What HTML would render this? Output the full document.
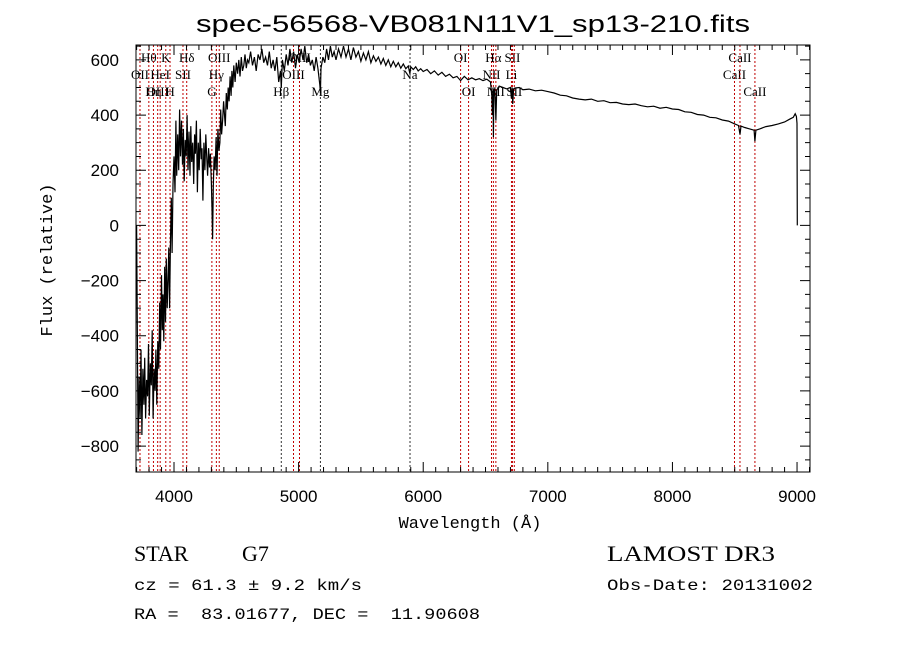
<!DOCTYPE html>
<html><head><meta charset="utf-8"><style>
html,body{margin:0;padding:0;background:#fff;}
svg{display:block;}
text{white-space:pre;}
</style></head><body>
<svg id="chart" width="900" height="649" viewBox="0 0 900 649" xmlns="http://www.w3.org/2000/svg">
<rect width="900" height="649" fill="#fff"/>
<text x="473" y="32" font-family="Liberation Sans, sans-serif" font-size="24" text-anchor="middle" textLength="554" lengthAdjust="spacingAndGlyphs">spec-56568-VB081N11V1_sp13-210.fits</text>
<g id="lines"></g>
<g id="series"></g>
<g id="axes"></g>
<text x="470" y="528" font-family="Liberation Mono, monospace" font-size="17" text-anchor="middle">Wavelength (Å)</text>
<text transform="translate(52,260) rotate(-90)" font-family="Liberation Mono, monospace" font-size="17" text-anchor="middle">Flux (relative)</text>
<text x="134" y="561" font-family="Liberation Serif, serif" font-size="22">STAR</text>
<text x="242" y="561" font-family="Liberation Serif, serif" font-size="22">G7</text>
<text x="134" y="590" font-family="Liberation Mono, monospace" font-size="16" textLength="228" lengthAdjust="spacingAndGlyphs">cz = 61.3 ± 9.2 km/s</text>
<text x="134" y="619" font-family="Liberation Mono, monospace" font-size="16" textLength="346" lengthAdjust="spacingAndGlyphs">RA =  83.01677, DEC =  11.90608</text>
<text x="607" y="561" font-family="Liberation Serif, serif" font-size="22" textLength="168" lengthAdjust="spacingAndGlyphs">LAMOST DR3</text>
<text x="607" y="590" font-family="Liberation Mono, monospace" font-size="16" textLength="206" lengthAdjust="spacingAndGlyphs">Obs-Date: 20131002</text>
</svg>
<script>
const spectrum = [
[3700,0],[3705,-300],[3712,-820],[3720,-550],[3728,-700],[3735,-450],[3742,-760],[3750,-520],[3758,-650],[3765,-480],
[3772,-700],[3780,-560],[3788,-620],[3795,-430],[3802,-690],[3810,-500],[3818,-580],[3825,-380],[3832,-700],[3840,-520],
[3848,-600],[3855,-450],[3862,-650],[3870,-420],[3878,-520],[3885,-280],[3892,-450],[3900,-180],[3906,-380],[3912,-250],
[3918,-420],[3925,-150],[3932,-350],[3938,-120],[3945,-300],[3952,-200],[3958,-80],[3965,-300],[3972,-50],[3978,100],
[3985,-100],[3992,150],[4000,250],[4008,120],[4015,380],[4022,180],[4030,330],[4038,200],[4045,420],[4052,250],
[4060,380],[4068,220],[4075,350],[4082,160],[4090,310],[4098,250],[4105,400],[4112,200],[4120,340],[4128,180],
[4135,360],[4142,230],[4150,300],[4158,150],[4165,330],[4172,260],[4180,380],[4188,120],[4195,300],[4202,200],
[4210,350],[4218,240],[4225,280],[4232,90],[4240,300],[4248,200],[4255,330],[4262,250],[4270,180],[4278,280],
[4285,210],[4292,260],[4300,150],[4305,60],[4310,-50],[4315,140],[4322,250],[4330,200],[4338,320],[4345,180],
[4352,350],[4360,270],[4368,300],[4375,420],[4382,330],[4390,380],[4398,450],[4405,400],[4412,360],[4420,480],
[4428,420],[4435,500],[4442,450],[4450,540],[4458,470],[4465,560],[4472,500],[4480,580],[4490,520],[4500,590],
[4510,550],[4520,600],[4530,540],[4540,610],[4550,560],[4560,580],[4570,620],[4580,570],[4590,600],[4600,590],
[4615,630],[4630,580],[4645,610],[4660,560],[4675,620],[4690,600],[4705,640],[4720,590],[4735,610],[4750,580],
[4765,630],[4780,570],[4795,600],[4810,560],[4825,610],[4840,520],[4855,560],[4861,500],[4870,600],[4885,560],
[4900,620],[4915,580],[4930,640],[4945,590],[4960,630],[4975,570],[4990,620],[5005,590],[5020,640],[5035,600],
[5050,650],[5065,590],[5080,620],[5095,580],[5110,600],[5125,560],[5140,610],[5155,570],[5170,510],[5175,480],
[5180,570],[5195,610],[5210,590],[5225,640],[5240,600],[5255,650],[5270,610],[5285,630],[5300,600],[5320,640],
[5340,610],[5360,650],[5380,610],[5400,640],[5420,600],[5440,645],[5460,610],[5480,630],[5500,595],[5520,625],
[5540,600],[5560,630],[5580,590],[5600,615],[5620,595],[5640,610],[5660,585],[5680,605],[5700,580],[5720,600],
[5740,575],[5760,595],[5780,575],[5800,590],[5820,570],[5840,585],[5860,568],[5880,578],[5893,550],[5900,575],
[5920,565],[5940,575],[5960,560],[5980,568],[6000,558],[6030,565],[6060,550],[6090,560],[6120,545],[6150,555],
[6180,540],[6210,548],[6240,535],[6270,540],[6300,525],[6330,540],[6360,528],[6390,535],[6420,528],[6450,532],
[6480,525],[6510,530],[6540,520],[6550,470],[6555,400],[6560,500],[6563,320],[6567,490],[6575,495],[6583,380],
[6590,490],[6610,505],[6640,500],[6670,495],[6700,500],[6708,460],[6714,500],[6718,440],[6725,495],[6740,498],
[6770,500],[6800,492],[6850,494],[6900,488],[6950,490],[7000,485],[7050,480],[7100,472],[7150,470],[7200,462],
[7250,458],[7300,455],[7350,458],[7400,450],[7450,452],[7500,445],[7550,446],[7600,440],[7650,438],[7700,440],
[7750,434],[7800,430],[7850,432],[7900,425],[7950,428],[8000,422],[8050,420],[8100,412],[8150,410],[8200,402],
[8250,400],[8300,392],[8350,390],[8400,382],[8450,378],[8500,368],[8530,362],[8542,330],[8550,360],[8580,355],
[8620,350],[8655,345],[8662,305],[8670,345],[8700,350],[8750,358],[8800,362],[8850,368],[8900,375],[8940,385],
[8970,392],[8985,405],[8995,395],[9000,370],[9002,0]
];
const wave = spectrum.map(p=>p[0]);
const flux = spectrum.map(p=>p[1]);
const majorX = [4000,5000,6000,7000,8000,9000];
const majorY = [-800,-600,-400,-200,0,200,400,600];
const lineWaves = [3727,3798,3835,3869,3889,3934,3968,4072,4102,4304,4340,4363,4861,4959,5007,5175,5894,6300,6364,6548,6563,6583,6708,6716,6731,8498,8542,8662];
const lineLabels = ["OII","Hθ","Hη","OIII","HeI","K","H","SII","Hδ","G","Hγ","OIII","Hβ","OIII","OIII","Mg","Na","OI","OI","NII","Hα","NII","Li","SII","SII","CaII","CaII","CaII"];
const lineRows = [2,1,3,3,2,1,3,2,1,3,2,1,3,2,1,3,2,1,3,2,1,3,2,1,3,2,1,3];

const X0=136,X1=810,Y0=45,Y1=472;
const xmin=3695,xmax=9104,ymin=-894,ymax=654;
const xs=w=>X0+(w-xmin)/(xmax-xmin)*(X1-X0);
const ys=f=>Y1-(f-ymin)/(ymax-ymin)*(Y1-Y0);
const NS='http://www.w3.org/2000/svg';
function mk(tag,attrs,parent){const e=document.createElementNS(NS,tag);for(const k in attrs)e.setAttribute(k,attrs[k]);parent.appendChild(e);return e;}

const gl=document.getElementById('lines');
const absorb=["Mg","Na","Hβ"];
lineWaves.forEach((w,i)=>{
  const x=xs(w);
  const col=absorb.includes(lineLabels[i])?'#333':'#c00000';
  const l=mk('line',{x1:x,x2:x,y1:Y0,y2:Y1,stroke:col,'stroke-width':1,'stroke-dasharray':'2,2'},gl);
  
  
  const t=mk('text',{x:x,y:[0,62,79,96][lineRows[i]],'font-family':'Liberation Serif, serif','font-size':13,'text-anchor':'middle'},gl);
  t.textContent=lineLabels[i];
  
  
});

const gs=document.getElementById('series');
let d='';
wave.forEach((w,i)=>{const f=Math.max(ymin,Math.min(ymax,flux[i]));d+=(i?'L':'M')+xs(w).toFixed(1)+','+ys(f).toFixed(1);});
const p=mk('path',{d:d,fill:'none',stroke:'#000','stroke-width':1.2},gs);



const ga=document.getElementById('axes');
const fr=mk('rect',{x:X0,y:Y0,width:X1-X0,height:Y1-Y0,fill:'none',stroke:'#000','stroke-width':1},ga);


let td='';
for(let w=3700;w<=9100;w+=100){const x=xs(w);const L=(w%1000===0)?10:5;td+=`M${x},${Y1}v${-L}M${x},${Y0}v${L}`;}
for(let f=-850;f<=650;f+=50){const y=ys(f);const L=(f%200===0)?10:5;td+=`M${X0},${y}h${L}M${X1},${y}h${-L}`;}
const tk=mk('path',{d:td,stroke:'#000','stroke-width':1,fill:'none'},ga);


majorX.forEach(v=>{const t=mk('text',{x:xs(v),y:502,'font-family':'Liberation Sans, sans-serif','font-size':17,'text-anchor':'middle'},ga);t.textContent=v;
  
  });
majorY.forEach(v=>{const t=mk('text',{x:119,y:ys(v)+6,'font-family':'Liberation Sans, sans-serif','font-size':17,'text-anchor':'end'},ga);t.textContent=v<0?'−'+(-v):v;
  
  });
</script>
</body></html>
